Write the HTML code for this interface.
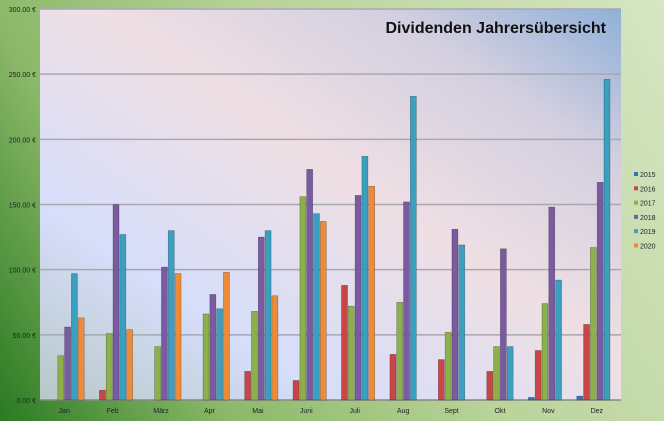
<!DOCTYPE html>
<html><head><meta charset="utf-8"><style>
body{margin:0;width:664px;height:421px;overflow:hidden;font-family:"Liberation Sans",sans-serif;}
#wrap{position:relative;width:664px;height:421px;background:linear-gradient(60deg,#2a7a22 0%,#8ab868 25%,#b9d39a 55%,#d6e6c2 100%);}
svg{position:absolute;left:0;top:0}
</style></head><body>
<div id="wrap">
<svg id="chart" width="664" height="421">
<defs>
<linearGradient id="plotbg" x1="0" y1="1" x2="1" y2="0">
<stop offset="0" stop-color="#b8c8c8"/><stop offset="0.25" stop-color="#d6defa"/>
<stop offset="0.55" stop-color="#efdfe4"/><stop offset="0.8" stop-color="#d3cfe0"/><stop offset="1" stop-color="#8fb0d8"/>
</linearGradient>
</defs>
<rect x="40" y="9" width="581" height="391" fill="url(#plotbg)"/>
<text x="606" y="33" text-anchor="end" font-size="16" font-weight="bold" fill="#111">Dividenden Jahrersübersicht</text>
<g id="grid"></g><g id="bars"></g><g id="labels"></g><g id="legend"></g>
</svg>
</div>
<script>
const categories=["Jan","Feb","März","Apr","Mai","Juni","Juli","Aug","Sept","Okt","Nov","Dez"];
const seriesNames=["2015","2016","2017","2018","2019","2020"];
const s2015=[0,0,0,0,0,0,0,0,0,0,2,3];
const s2016=[0,7.5,0,0,22,15,88,35,31,22,38,58];
const s2017=[34,51,41,66,68,156,72,75,52,41,74,117];
const s2018=[56,150,102,81,125,177,157,152,131,116,148,167];
const s2019=[97,127,130,70,130,143,187,233,119,41,92,246];
const s2020=[63,54,97,98,80,137,164,0,0,0,0,0];
const yTicks=[0,50,100,150,200,250,300];
const yTickLabels=["0.00 €","50.00 €","100.00 €","150.00 €","200.00 €","250.00 €","300.00 €"];
const colors=["#3a6fc0","#c84646","#8cb04a","#7a5aa0","#3ba0c0","#ec8c3a"];
const series=[s2015,s2016,s2017,s2018,s2019,s2020];
const X0=40,X1=621,Y0=400,Y1=9,YMAX=300;
const ns="http://www.w3.org/2000/svg";
const y=v=>Y0-(v/YMAX)*(Y0-Y1);
const bw=(X1-X0)/categories.length;
const xCat=i=>X0+i*bw;
const g=document.getElementById('grid'),b=document.getElementById('bars'),l=document.getElementById('labels'),lg=document.getElementById('legend');
function mk(tag,attrs){const e=document.createElementNS(ns,tag);for(const k in attrs)e.setAttribute(k,attrs[k]);return e;}
yTicks.forEach((t,i)=>{
 const ln=mk('line',{x1:X0,x2:X1,y1:y(t),y2:y(t),stroke:i==0?'#888':'#a8a8b0','stroke-width':1.5});
 
 
 g.appendChild(ln);
 const tx=mk('text',{x:36,y:y(t)+3,'text-anchor':'end','font-size':7,fill:'#222'});
 tx.textContent=yTickLabels[i];
 
 
 l.appendChild(tx);
});
const barW=6,gap=0.8;
categories.forEach((c,i)=>{
 const groupW=6*barW+5*gap;
 const start=xCat(i)+(bw-groupW)/2;
 series.forEach((s,j)=>{
  const v=s[i]; if(!v)return;
  const r=mk('rect',{x:start+j*(barW+gap),y:y(v),width:barW,height:Y0-y(v),fill:colors[j],stroke:'rgba(0,0,0,0.35)','stroke-width':0.6});
  
  
  b.appendChild(r);
 });
 const tx=mk('text',{x:xCat(i)+bw/2,y:413,'text-anchor':'middle','font-size':7,fill:'#222'});
 tx.textContent=c;
 
 
 l.appendChild(tx);
});
seriesNames.forEach((n,j)=>{
 const yy=175+j*14.3;
 const r=mk('rect',{x:634,y:yy-3,width:4,height:4,fill:colors[j]});
 
 
 lg.appendChild(r);
 const tx=mk('text',{x:640,y:yy+2,'font-size':7,fill:'#222'});
 tx.textContent=n;
 
 
 lg.appendChild(tx);
});
</script>
</body></html>
